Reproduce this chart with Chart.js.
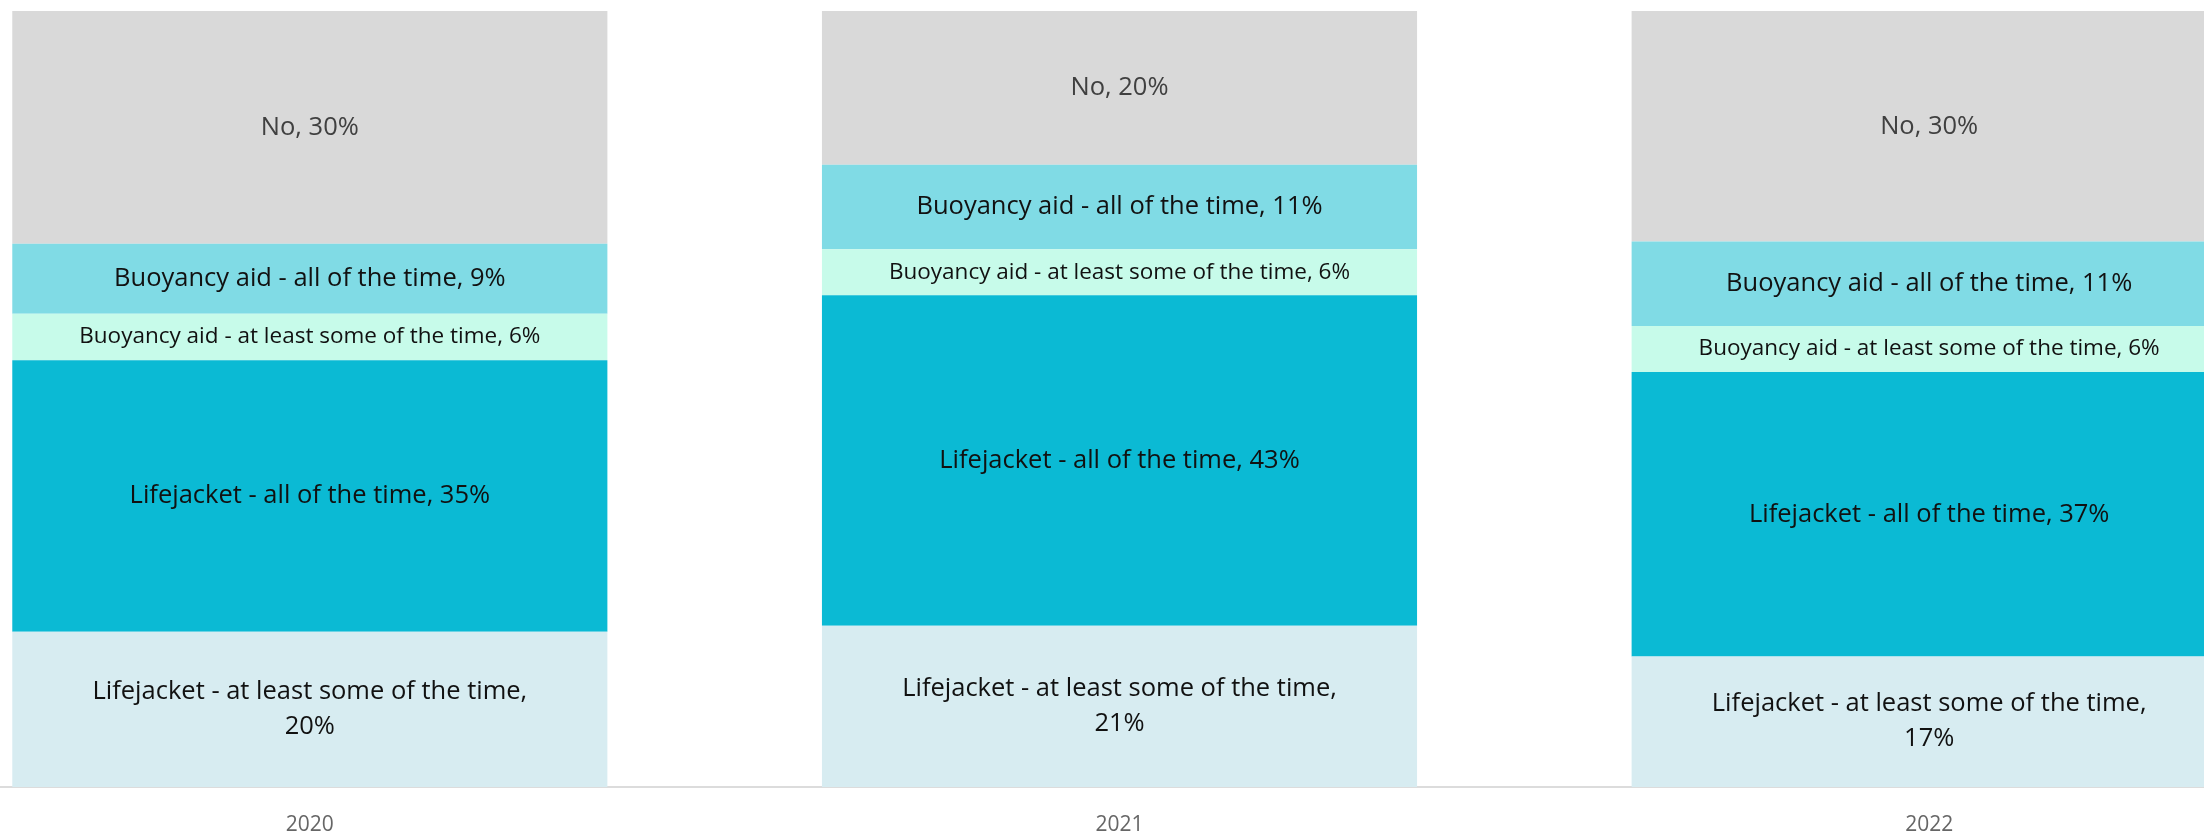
<!DOCTYPE html>
<html>
<head>
<meta charset="utf-8">
<script src="https://cdn.jsdelivr.net/npm/chart.js@4.4.1/dist/chart.umd.min.js"></script>
<style>
  html, body { margin: 0; padding: 0; background: #ffffff; }
  #wrap { position: relative; width: 2204px; height: 834px; overflow: hidden; }
  /* the plot runs wider than the page, so the last bar is cut off at the right edge */
  #plot { position: absolute; left: -95px; top: 0; width: 2429px; height: 834px; }
</style>
</head>
<body>
<div id="wrap">
  <div id="plot"><canvas id="chart"></canvas></div>
</div>
<script>
const years = ["2020", "2021", "2022"];

const seriesNames = [
  "Lifejacket - at least some of the time",
  "Lifejacket - all of the time",
  "Buoyancy aid - at least some of the time",
  "Buoyancy aid - all of the time",
  "No",
];

// percentages per year, bottom segment first
const lifejacketSome = [20, 21, 17];
const lifejacketAll = [35, 43, 37];
const buoyancySome = [6, 6, 6];
const buoyancyAll = [9, 11, 11];
const noJacket = [30, 20, 30];

const seriesValues = [lifejacketSome, lifejacketAll, buoyancySome, buoyancyAll, noJacket];
const seriesColors = ["#d7ecf1", "#0bbad4", "#c7fbea", "#80dbe5", "#d9d9d9"];
const labelColors = ["#111111", "#111111", "#111111", "#111111", "#404040"];

const FONT = "'Open Sans', 'Noto Sans', sans-serif";

// 100% stacked: each year's column is scaled to its own total
const yearTotals = years.map((_, i) => seriesValues.reduce((s, arr) => s + arr[i], 0));

const datasets = seriesNames.map((name, k) => ({
  label: name,
  data: seriesValues[k].map((v, i) => (v / yearTotals[i]) * 100),
  raw: seriesValues[k],
  backgroundColor: seriesColors[k],
  borderWidth: 0,
  categoryPercentage: 0.735,
  barPercentage: 1,
}));

// writes "name, value%" in the middle of every segment
const segmentLabels = {
  id: "segmentLabels",
  afterDatasetsDraw(chart) {
    const ctx = chart.ctx;
    ctx.save();
    ctx.textAlign = "center";
    ctx.textBaseline = "middle";
    chart.data.datasets.forEach((ds, k) => {
      const meta = chart.getDatasetMeta(k);
      meta.data.forEach((bar, i) => {
        const props = bar.getProps(["x", "y", "base", "width"], true);
        const h = props.base - props.y;
        const cy = (props.y + props.base) / 2;
        const maxW = props.width * 0.79;
        let size = 25.5;
        let lines = [ds.label + ", " + ds.raw[i] + "%"];
        ctx.font = size + "px " + FONT;
        if (ctx.measureText(lines[0]).width > maxW) {
          if (h > size * 3.4) {
            // tall enough: break after the comma
            lines = [ds.label + ",", ds.raw[i] + "%"];
          } else {
            // thin segment: shrink the text until it fits
            while (size > 8 && ctx.measureText(lines[0]).width > maxW) {
              size -= 0.5;
              ctx.font = size + "px " + FONT;
            }
          }
        }
        const lh = size * 1.37;
        ctx.fillStyle = labelColors[k];
        lines.forEach((t, n) => {
          ctx.fillText(t, props.x, cy + (n - (lines.length - 1) / 2) * lh);
        });
      });
    });
    ctx.restore();
  },
};

new Chart(document.getElementById("chart"), {
  type: "bar",
  data: { labels: years, datasets },
  options: {
    responsive: true,
    maintainAspectRatio: false,
    animation: false,
    layout: { padding: { top: 11, left: 0, right: 0, bottom: 0 } },
    plugins: { legend: { display: false }, tooltip: { enabled: false } },
    scales: {
      x: {
        stacked: true,
        grid: { display: false, drawTicks: false },
        border: { display: true, color: "#dcdcdc", width: 2 },
        ticks: { color: "#666666", font: { family: FONT, size: 21 }, padding: 25 },
        afterFit: (scale) => { scale.height = 47; },
      },
      y: {
        stacked: true,
        display: false,
        min: 0,
        max: 100,
      },
    },
  },
  plugins: [segmentLabels],
});
</script>
</body>
</html>
